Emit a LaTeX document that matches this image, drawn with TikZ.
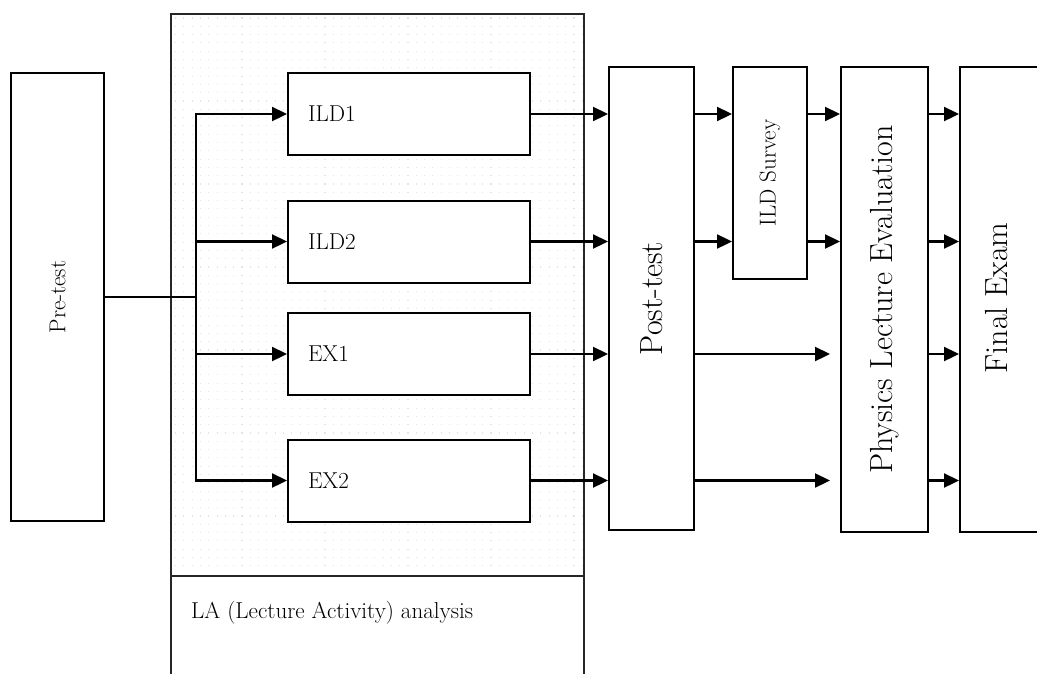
\documentclass[tikz,border=0pt]{standalone}
\usepackage{fontspec}
\usetikzlibrary{arrows.meta}
\tikzset{
  box/.style={draw=black, line width=2pt, fill=white, inner sep=0pt},
  small/.style={font=\fontsize{23}{27}\selectfont},
  big/.style={font=\fontsize{32}{38}\selectfont},
  actbox/.style={box, small, minimum width=242pt, minimum height=82pt, text width=202pt, align=left, inner xsep=20pt},
  arr/.style={line width=2.3pt, -{Triangle[length=15pt,width=14pt]}},
}
\begin{document}
\begin{tikzpicture}[x=1pt,y=-1pt]
\useasboundingbox (0,0) rectangle (1037,673);
\clip (0,0) rectangle (1037,673);
% dotted background of the LA panel
\foreach \yy in {18,26.3,...,572} {
  \draw[gray!22, line width=1.1pt, dash pattern=on 1.1pt off 7.2pt] (175,\yy) -- (582,\yy);
}
% LA panel (open at bottom)
\draw[line width=1.3pt, black!85] (171,680) -- (171,14) -- (584,14) -- (584,680);
\draw[line width=1.3pt, black!85] (171,576) -- (584,576);
\node[small, anchor=west, inner sep=0pt] (la) at (191,613) {LA (Lecture Activity) analysis};

% Pre-test
\node[box, small, rotate=90, minimum width=448pt, minimum height=93pt] (pre) at (57.5,297) {Pre-test};
% activity boxes
\node[actbox] (ild1) at (409,114) {ILD1};
\node[actbox] (ild2) at (409,241.5) {ILD2};
\node[actbox] (ex1) at (409,354) {EX1};
\node[actbox] (ex2) at (409,480.5) {EX2};
% right column
\node[box, big, rotate=90, minimum width=463pt, minimum height=85pt] (post) at (651.5,298.5) {Post-test};
\node[box, small, rotate=90, minimum width=212pt, minimum height=74pt] (surv) at (770,173) {ILD Survey};
\node[box, big, rotate=90, minimum width=465pt, minimum height=87pt] (ple) at (884.5,299.5) {Physics Lecture Evaluation};
\node[box, minimum width=90pt, minimum height=465pt] (fe) at (1005,299.5) {};
\node[big, rotate=90] (fet) at (997,298) {Final Exam};

% Pre-test fan-out
\coordinate (tr) at (196,297);
\draw[line width=2.3pt] (pre.south) -- (tr);
\draw[arr] (tr) |- (ild1.west);
\draw[arr] (tr) |- (ild2.west);
\draw[arr] (tr) |- (ex1.west);
\draw[arr] (tr) |- (ex2.west);

% activities -> Post-test
\draw[arr] (ild1.east) -- (post.north |- ild1.east);
\draw[arr] (ild2.east) -- (post.north |- ild2.east);
\draw[arr] (ex1.east) -- (post.north |- ex1.east);
\draw[arr] (ex2.east) -- (post.north |- ex2.east);

% Post-test -> ILD Survey
\draw[arr] (post.south |- ild1.east) -- (surv.north |- ild1.east);
\draw[arr] (post.south |- ild2.east) -- (surv.north |- ild2.east);
% ILD Survey -> PLE
\draw[arr] (surv.south |- ild1.east) -- (ple.north |- ild1.east);
\draw[arr] (surv.south |- ild2.east) -- (ple.north |- ild2.east);
% Post-test -> PLE (short)
\draw[arr, shorten >=10pt] (post.south |- ex1.east) -- (ple.north |- ex1.east);
\draw[arr, shorten >=10pt] (post.south |- ex2.east) -- (ple.north |- ex2.east);
% PLE -> Final Exam
\draw[arr] (ple.south |- ild1.east) -- (fe.west |- ild1.east);
\draw[arr] (ple.south |- ild2.east) -- (fe.west |- ild2.east);
\draw[arr] (ple.south |- ex1.east) -- (fe.west |- ex1.east);
\draw[arr] (ple.south |- ex2.east) -- (fe.west |- ex2.east);
\end{tikzpicture}
\end{document}
